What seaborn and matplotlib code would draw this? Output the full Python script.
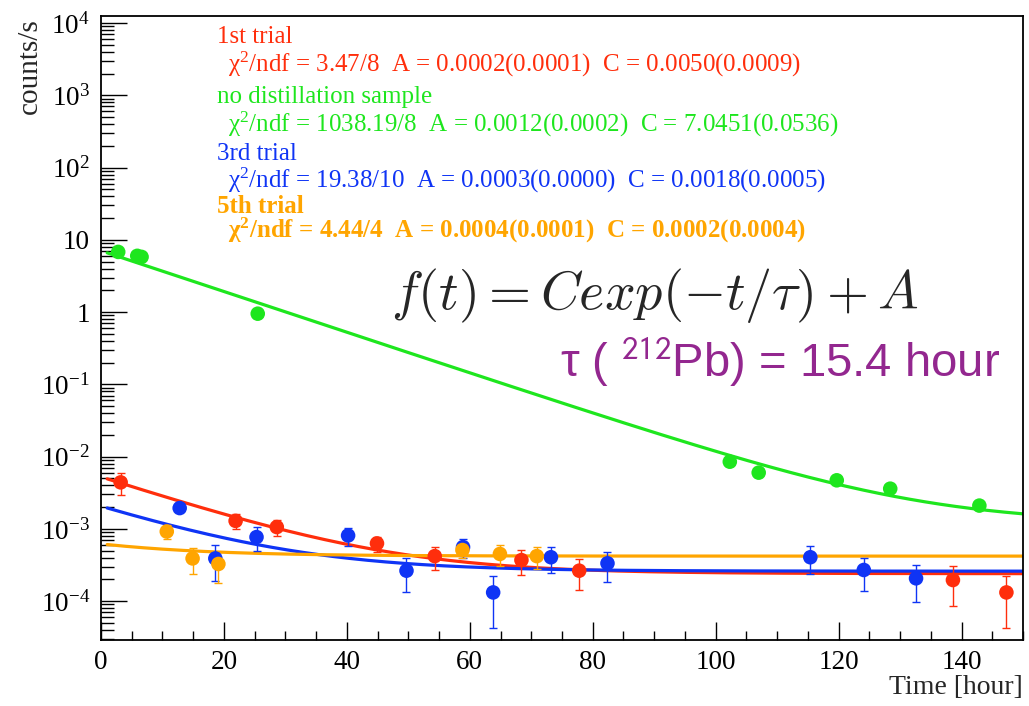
import numpy as np
import pandas as pd
import matplotlib
matplotlib.use("Agg")
import matplotlib.pyplot as plt
import matplotlib.ticker as mticker
import seaborn as sns

# measured points: time [hour], counts/s, error
red_t = [3.2, 21.9, 28.6, 44.9, 54.3, 68.4, 77.8, 138.6, 147.3]
red_y = [0.0044, 0.00129, 0.00106, 0.00063, 0.00042, 0.00037, 0.000264, 0.000196, 0.000132]
red_err = [0.0015, 0.0003, 0.00027, 0.00015, 0.00015, 0.00014, 0.00012, 0.00011, 0.00009]

green_t = [2.8, 5.9, 6.6, 25.5, 102.3, 107.0, 119.7, 128.4, 142.9]
green_y = [6.8, 6.0, 5.8, 0.95, 0.0085, 0.0060, 0.0047, 0.0036, 0.0021]

blue_t = [12.8, 18.6, 25.3, 40.2, 49.7, 58.9, 63.8, 73.2, 82.4, 115.4, 124.1, 132.6]
blue_y = [0.00194, 0.00039, 0.00077, 0.00081, 0.000264, 0.00056, 0.000132, 0.000405,
          0.000334, 0.000405, 0.00027, 0.000207]
blue_err = [0.00015, 0.0002, 0.00028, 0.00023, 0.00013, 0.00017, 0.00009, 0.00016,
            0.00015, 0.00017, 0.00013, 0.00011]

orange_t = [10.7, 14.9, 19.1, 58.8, 64.9, 70.9]
orange_y = [0.00092, 0.00039, 0.000327, 0.00051, 0.00045, 0.00042]
orange_err = [0.0002, 0.00015, 0.00015, 0.00011, 0.00014, 0.00014]

# fit parameters  f(t) = C exp(-t/tau) + A
tau = 15.4
fit_C = {"red": 0.0050, "green": 7.0451, "blue": 0.0018, "orange": 0.0002}
fit_A = {"red": 0.00024, "green": 0.0012, "blue": 0.00026, "orange": 0.00042}

colors = {"red": "#ff2e0c", "green": "#1ee61e", "blue": "#0f34f5", "orange": "#ffa500"}

sns.set_theme(style="ticks")
plt.rcParams["font.family"] = ["Liberation Serif", "DejaVu Serif"]
plt.rcParams["mathtext.fontset"] = "custom"
plt.rcParams["mathtext.rm"] = "Liberation Serif"
plt.rcParams["mathtext.it"] = "Liberation Serif:italic"
plt.rcParams["mathtext.bf"] = "Liberation Serif:bold"

fig = plt.figure(figsize=(10.29, 7.06), dpi=100)
ax = fig.add_axes([101 / 1029, 66 / 706, 922 / 1029, 624 / 706])
ax.set_yscale("log")

tt = np.linspace(1, 150, 300)
for key in ["green", "red", "blue", "orange"]:
    f = fit_C[key] * np.exp(-tt / tau) + fit_A[key]
    sns.lineplot(x=tt, y=f, color=colors[key], linewidth=2.3, ax=ax, zorder=2)

series = [("green", green_t, green_y, None),
          ("red", red_t, red_y, red_err),
          ("blue", blue_t, blue_y, blue_err),
          ("orange", orange_t, orange_y, orange_err)]
for key, t, y, e in series:
    if e is not None:
        ax.errorbar(t, y, yerr=e, fmt="none", ecolor=colors[key], elinewidth=1.0,
                    capsize=3, capthick=1.0, zorder=3)
    sns.scatterplot(x=t, y=y, color=colors[key], s=110, edgecolor="none", ax=ax, zorder=4)

ax.set_xlim(0, 150)
ax.set_ylim(2.9e-5, 1.25e4)

ax.xaxis.set_major_locator(mticker.MultipleLocator(20))
ax.xaxis.set_minor_locator(mticker.MultipleLocator(5))
ax.yaxis.set_major_locator(mticker.FixedLocator([10.0 ** k for k in range(-4, 5)]))
ax.yaxis.set_minor_locator(mticker.LogLocator(base=10, subs=np.arange(2, 10), numticks=30))
ylabels = [r"$\mathregular{10^{-4}}$", r"$\mathregular{10^{-3}}$", r"$\mathregular{10^{-2}}$",
           r"$\mathregular{10^{-1}}$", "1", "10", r"$\mathregular{10^{2}}$",
           r"$\mathregular{10^{3}}$", r"$\mathregular{10^{4}}$"]
ax.yaxis.set_major_formatter(mticker.FixedFormatter(ylabels))
ax.yaxis.set_minor_formatter(mticker.NullFormatter())

ax.tick_params(axis="both", which="both", direction="in", top=False, right=False,
               labelsize=19.5, colors="black", width=1.0)
ax.tick_params(axis="x", which="major", length=13, pad=7)
ax.tick_params(axis="x", which="minor", length=6.5)
ax.tick_params(axis="y", which="major", length=19, pad=8)
ax.tick_params(axis="y", which="minor", length=9.5)
for sp in ax.spines.values():
    sp.set_visible(True)
    sp.set_color("black")
    sp.set_linewidth(1.3)
ax.set_xlabel("")
ax.set_ylabel("")

fig.text(30 / 1029, 1 - 66 / 706, "counts/s", rotation=90, fontsize=21,
         ha="center", va="center")
fig.text(1023 / 1029, 1 - 694 / 706, "Time [hour]", fontsize=20, ha="right", va="baseline")

# fit statistics
stats = [
    ("1st trial", 43, r"$\mathregular{\chi^{2}}$/ndf = 3.47/8  A = 0.0002(0.0001)  C = 0.0050(0.0009)", 72, "red", "normal"),
    ("no distillation sample", 103, r"$\mathregular{\chi^{2}}$/ndf = 1038.19/8  A = 0.0012(0.0002)  C = 7.0451(0.0536)", 132, "green", "normal"),
    ("3rd trial", 160, r"$\mathregular{\chi^{2}}$/ndf = 19.38/10  A = 0.0003(0.0000)  C = 0.0018(0.0005)", 188, "blue", "normal"),
    ("5th trial", 213, r"$\mathbf{\chi^{2}}$/ndf = 4.44/4  A = 0.0004(0.0001)  C = 0.0002(0.0004)", 238, "orange", "bold"),
]
for title, yb1, line, yb2, key, w in stats:
    fig.text(217 / 1029, 1 - yb1 / 706, title, fontsize=18, color=colors[key],
             fontweight=w, va="baseline")
    fig.text(228 / 1029, 1 - yb2 / 706, line, fontsize=18, color=colors[key],
             fontweight=w, va="baseline")

fig.text(655 / 1029, 1 - 309 / 706, r"$f(t) = Cexp(-t/\tau) + A$", fontsize=39,
         math_fontfamily="cm", ha="center", va="baseline")
fig.text(1000 / 1029, 1 - 377 / 706, r"τ ( $^{212}$Pb) = 15.4 hour", fontsize=34,
         family="Liberation Sans", math_fontfamily="stixsans", color="#93278f",
         ha="right", va="baseline")

fig.savefig("out.png", dpi=100)
